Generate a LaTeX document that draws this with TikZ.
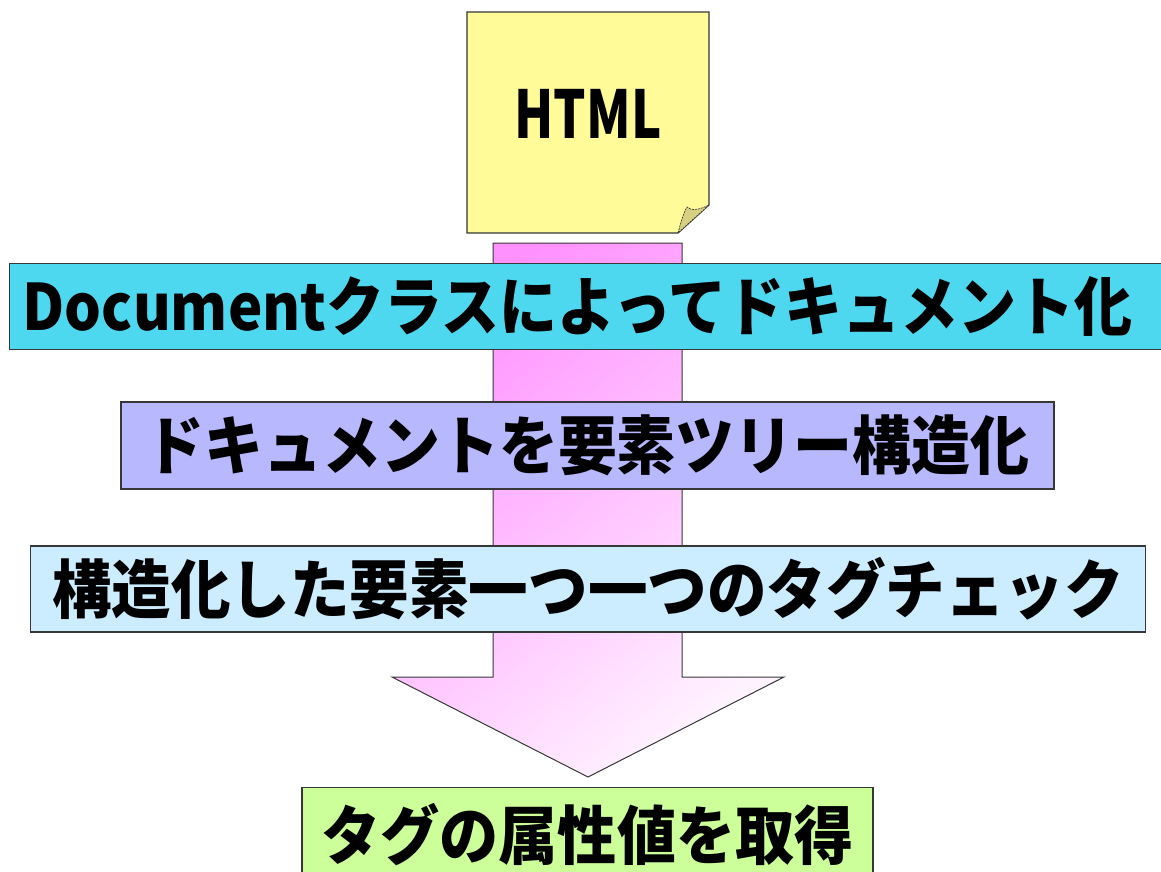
\documentclass[tikz,border=0pt]{standalone}
\usepackage{fontspec}
\usepackage{graphicx}
\newfontfamily\jp{Noto Sans CJK JP}
\definecolor{cA}{RGB}{77,216,240}
\definecolor{cB}{RGB}{184,184,255}
\definecolor{cC}{RGB}{204,236,255}
\definecolor{cD}{RGB}{204,255,153}
\definecolor{noteY}{RGB}{255,251,153}
\definecolor{flapY}{RGB}{214,208,128}
\definecolor{arrDark}{RGB}{255,145,255}
\definecolor{arrLight}{RGB}{255,242,255}
\definecolor{edge}{RGB}{55,55,55}
\tikzset{
  box/.style={draw=edge, line width=1.4pt, inner ysep=0pt, font=\jp\bfseries\fontsize{64}{64}\selectfont, text=black},
}
\begin{document}
\begin{tikzpicture}[x=1pt,y=-1pt]
\useasboundingbox (0,0) rectangle (1161,871);
\fill[white] (0,0) rectangle (1161,871);
% big arrow
\shade[draw=edge, line width=1pt, top color=arrDark, bottom color=arrLight, shading angle=40]
  (493,243) -- (682,243) -- (682,677) -- (784,677) -- (588,777) -- (392,677) -- (493,677) -- cycle;
% HTML note
\filldraw[fill=noteY, draw=edge, line width=1.2pt]
  (467,12) -- (709,12) -- (709,205) -- (678,233) -- (467,233) -- cycle;
\filldraw[fill=flapY, draw=edge, line width=0.7pt, dash pattern=on 2pt off 1pt]
  (678,233) .. controls (681,222) and (683,214) .. (687,207)
  .. controls (691,211) and (699,210) .. (709,205) -- cycle;
\node[font=\jp\bfseries\fontsize{66}{66}\selectfont] (html) at (588,114) {\resizebox{147pt}{\height}{HTML}};
% boxes
\node[box, fill=cA, anchor=north west, text width=1150pt, align=left, inner xsep=13pt, minimum height=86pt]
  (b1) at (9,263) {\resizebox{1110pt}{\height}{Documentクラスによってドキュメント化}};
\node[box, fill=cB, inner xsep=0pt, minimum width=933pt, minimum height=87pt]
  (b2) at (587.5,445.5) {\resizebox{884pt}{\height}{ドキュメントを要素ツリー構造化}};
\node[box, fill=cC, inner xsep=0pt, minimum width=1115pt, minimum height=86pt]
  (b3) at (588,589) {\resizebox{1072pt}{\height}{構造化した要素一つ一つのタグチェック}};
\node[box, fill=cD, anchor=north, inner xsep=0pt, minimum width=571pt, minimum height=94pt]
  (b4) at (587.5,787) {\resizebox{532pt}{\height}{タグの属性値を取得}};
\end{tikzpicture}
\end{document}
